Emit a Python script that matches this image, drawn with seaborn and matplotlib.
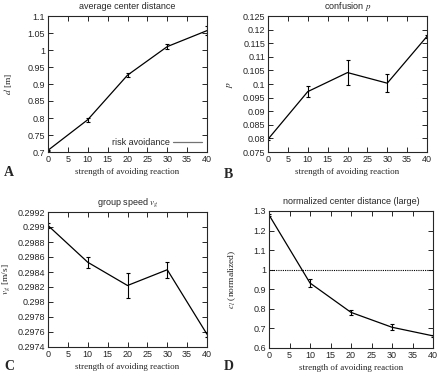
import numpy as np
import pandas as pd
import matplotlib
matplotlib.use("Agg")
import matplotlib.pyplot as plt
import seaborn as sns
from matplotlib.ticker import FormatStrFormatter, MultipleLocator

# strength of avoiding reaction
strength = [0, 10, 20, 30, 40]

# A: average center distance
dist = [0.705, 0.795, 0.926, 1.010, 1.057]
dist_err = [0.002, 0.006, 0.005, 0.007, 0.013]

# B: confusion p
conf = [0.0797, 0.0972, 0.1042, 0.1003, 0.1175]
conf_err = [0.0003, 0.0020, 0.0045, 0.0034, 0.0005]

# C: group speed
speed = [0.29902, 0.29853, 0.29822, 0.29843, 0.29757]
speed_err = [0.00003, 0.00007, 0.00017, 0.00011, 0.00003]

# D: normalized center distance (large)
norm = [1.28, 0.932, 0.782, 0.706, 0.662]
norm_err = [0.005, 0.022, 0.012, 0.016, 0.005]

sns.set_theme(style="ticks")
plt.rcParams.update({
    "font.family": ["Liberation Sans", "DejaVu Sans"],
    "mathtext.fontset": "stix",
    "xtick.direction": "in",
    "ytick.direction": "in",
    "xtick.top": True,
    "ytick.right": True,
    "xtick.major.size": 3.5,
    "ytick.major.size": 3.5,
    "xtick.major.width": 0.7,
    "ytick.major.width": 0.7,
    "axes.linewidth": 0.8,
    "xtick.labelsize": 6.5,
    "ytick.labelsize": 6.5,
    "xtick.major.pad": 2,
    "ytick.major.pad": 2,
})

W, H = 440, 373
fig = plt.figure(figsize=(W / 100, H / 100), dpi=100)


def rect(x0, x1, ytop, ybot):
    # pixel box -> figure fraction
    return [x0 / W, 1 - ybot / H, (x1 - x0) / W, (ybot - ytop) / H]


panels = [
    (rect(48, 207, 16, 152), dist, dist_err, (0.7, 1.1), 0.05,
     "average center distance", "$d$ [m]", "A", (4, 173), -0.252),
    (rect(268, 427, 16, 152), conf, conf_err, (0.075, 0.125), 0.005,
     "confusion $p$", "$p$", "B", (224, 175), -0.239),
    (rect(48, 207, 212, 347), speed, speed_err, (0.2974, 0.2992), 0.0002,
     "group speed $v_g$", "$v_g$ [m/s]", "C", (4, 366), -0.262),
    (rect(269, 433, 211, 348), norm, norm_err, (0.6, 1.3), 0.1,
     "normalized center distance (large)", "$c_l$ (normalized)", "D", (224, 366), -0.226),
]

serif = ["Liberation Serif", "DejaVu Serif"]

for i, (box, y, err, ylim, ystep, title, ylabel, letter, lpos, ylx) in enumerate(panels):
    ax = fig.add_axes(box)
    df = pd.DataFrame({"x": strength, "y": y})
    sns.lineplot(data=df, x="x", y="y", ax=ax, color="black", linewidth=0.9,
                 label="risk avoidance" if i == 0 else None, legend=(i == 0))
    ax.errorbar(strength, y, yerr=err, fmt="none", ecolor="black",
                elinewidth=0.8, capsize=1.5, capthick=0.8)
    if i == 3:
        ax.axhline(1.0, color="black", linewidth=0.8, linestyle=(0, (1, 1)))
    ax.set_xlim(0, 40)
    ax.set_ylim(*ylim)
    ax.xaxis.set_major_locator(MultipleLocator(5))
    ax.yaxis.set_major_locator(MultipleLocator(ystep))
    ax.yaxis.set_major_formatter(FormatStrFormatter("%g"))
    ax.set_title(title, fontsize=6.5, pad=5)
    ax.set_xlabel("strength of avoiding reaction", fontsize=6.5, family=serif,
                  labelpad=3)
    ax.set_ylabel(ylabel, fontsize=6.8, family=serif, va="center")
    ax.yaxis.set_label_coords(ylx, 0.5)
    if i == 0:
        ax.legend(loc="lower right", frameon=False, fontsize=6.5, markerfirst=False,
                  handlelength=3.2, borderaxespad=0.15, handletextpad=0.4)
        ax.legend_.get_lines()[0].set_color("0.45")
    # panel letter
    fig.text(lpos[0] / W, 1 - lpos[1] / H, letter, fontsize=10,
             fontweight="bold", family=serif, va="center", ha="left")

fig.savefig("out.png", dpi=100)
